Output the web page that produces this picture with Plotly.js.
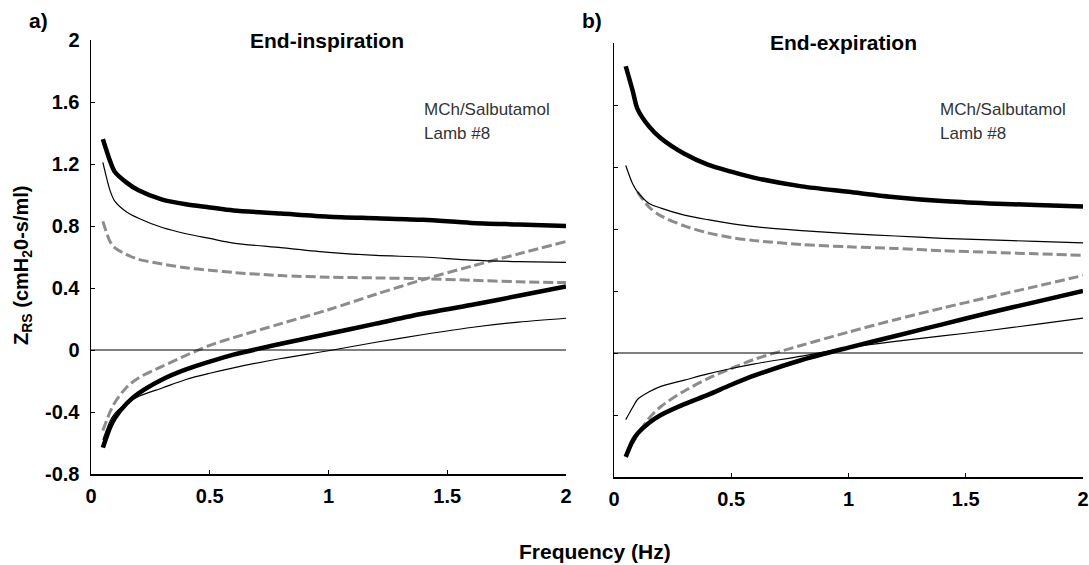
<!DOCTYPE html>
<html>
<head>
<meta charset="utf-8">
<script src="https://cdn.plot.ly/plotly-3.0.1.min.js"></script>
<style>html,body{margin:0;padding:0;background:#fff}#chart{width:1089px;height:565px}</style>
</head>
<body>
<div id="chart"></div>
<script>
// Frequency grid (Hz)
const freq = [0.05,0.08,0.1,0.15,0.2,0.3,0.4,0.5,0.6,0.8,1.0,1.2,1.4,1.6,1.8,2.0];

// a) End-inspiration
const insThickR = [1.36,1.22,1.15,1.08,1.03,0.97,0.94,0.92,0.90,0.88,0.86,0.85,0.84,0.82,0.81,0.80];
const insThinR  = [1.21,1.03,0.96,0.89,0.85,0.79,0.75,0.72,0.69,0.66,0.63,0.61,0.60,0.58,0.57,0.565];
const insDashR  = [0.83,0.70,0.66,0.615,0.585,0.555,0.53,0.515,0.50,0.48,0.47,0.465,0.46,0.45,0.44,0.435];
const insThickX = [-0.63,-0.50,-0.44,-0.345,-0.28,-0.19,-0.125,-0.075,-0.03,0.04,0.105,0.17,0.235,0.29,0.35,0.41];
const insThinX  = [-0.58,-0.46,-0.41,-0.345,-0.30,-0.245,-0.19,-0.15,-0.115,-0.055,-0.005,0.05,0.10,0.145,0.18,0.205];
const insDashX  = [-0.52,-0.40,-0.34,-0.24,-0.18,-0.105,-0.035,0.03,0.08,0.17,0.26,0.36,0.455,0.54,0.62,0.70];

// b) End-expiration
const expThickR = [1.85,1.69,1.575,1.46,1.385,1.285,1.215,1.17,1.13,1.075,1.04,1.005,0.98,0.965,0.955,0.945];
const expThinR  = [1.21,1.09,1.04,0.965,0.935,0.89,0.86,0.835,0.815,0.79,0.77,0.755,0.74,0.73,0.72,0.71];
const expDashR  = [null,null,1.04,0.94,0.885,0.82,0.775,0.745,0.725,0.70,0.685,0.675,0.66,0.65,0.64,0.63];
const expThickX = [-0.67,-0.565,-0.52,-0.45,-0.40,-0.33,-0.27,-0.205,-0.145,-0.045,0.035,0.11,0.185,0.26,0.33,0.40];
const expThinX  = [-0.43,-0.35,-0.30,-0.25,-0.215,-0.175,-0.135,-0.10,-0.07,-0.02,0.035,0.075,0.11,0.145,0.185,0.225];
const expDashX  = [null,-0.58,-0.53,-0.42,-0.345,-0.245,-0.165,-0.10,-0.04,0.05,0.135,0.215,0.29,0.36,0.43,0.50];

const xTicks = [0,0.5,1,1.5,2];
const xTickText = ['0','0.5','1','1.5','2'];
const yTicks = [-0.8,-0.4,0,0.4,0.8,1.2,1.6,2];
const yTickText = ['-0.8','-0.4','0','0.4','0.8','1.2','1.6','2'];

const thick = {color:'#000', width:4.5, shape:'spline', smoothing:0.8};
const thin  = {color:'#000', width:1.2, shape:'spline', smoothing:0.8};
const dash  = {color:'#8c8c8c', width:3, dash:'10px,4px', shape:'spline', smoothing:0.8};

function tr(y, line, xa, ya){
  return {x:freq, y:y, mode:'lines', line:line, xaxis:xa, yaxis:ya, hoverinfo:'skip', showlegend:false, connectgaps:false};
}

const data = [
  tr(insDashR,dash,'x','y'), tr(insDashX,dash,'x','y'),
  tr(insThinR,thin,'x','y'), tr(insThinX,thin,'x','y'),
  tr(insThickR,thick,'x','y'), tr(insThickX,thick,'x','y'),
  tr(expDashR,dash,'x2','y2'), tr(expDashX,dash,'x2','y2'),
  tr(expThinR,thin,'x2','y2'), tr(expThinX,thin,'x2','y2'),
  tr(expThickR,thick,'x2','y2'), tr(expThickX,thick,'x2','y2')
];

const FONT = 'Liberation Sans, Arial, sans-serif';
const tickFont = {family:FONT, size:20, color:'#000', weight:700};

function xax(domain, anchor){
  return {domain:domain, anchor:anchor, range:[0,2], showline:true, linecolor:'#000', linewidth:1.5,
    ticks:'inside', ticklen:4, tickcolor:'#000', tickvals:xTicks, ticktext:xTickText, tickfont:tickFont,
    showgrid:false, zeroline:false, fixedrange:true, ticklabelstandoff:3};
}
function yax(domain, anchor, labels){
  return {domain:domain, anchor:anchor, range:[-0.8,2], showline:true, linecolor:'#000', linewidth:1.5,
    ticks:'inside', ticklen:4, tickcolor:'#000', tickvals:yTicks, ticktext:yTickText, tickfont:tickFont,
    showticklabels:labels, showgrid:false, zeroline:false, fixedrange:true, ticklabelstandoff:6};
}

const W = 1089, H = 565;
const px = v => v / W, py = v => 1 - v / H;

const titleFont = {family:FONT, size:21, color:'#000', weight:700};
const noteFont = {family:FONT, size:17, color:'#333'};
function ann(text, x, y, font, xanchor, extra){
  return Object.assign({text:text, x:px(x), y:py(y), xref:'paper', yref:'paper', showarrow:false,
    xanchor:xanchor||'center', yanchor:'middle', font:font}, extra||{});
}

const layout = {
  width:W, height:H, margin:{l:0,r:0,t:0,b:0}, paper_bgcolor:'#fff', plot_bgcolor:'#fff',
  showlegend:false,
  xaxis: xax([px(91), px(566)], 'y'),
  yaxis: yax([py(474), py(40)], 'x', true),
  xaxis2: xax([px(614), px(1083)], 'y2'),
  yaxis2: yax([py(477), py(43)], 'x2', false),
  shapes:[
    {type:'line', xref:'x domain', yref:'y', x0:0, x1:1, y0:0, y1:0, line:{color:'#000', width:1}},
    {type:'line', xref:'x2 domain', yref:'y2', x0:0, x1:1, y0:0, y1:0, line:{color:'#000', width:1}}
  ],
  annotations:[
    ann('<b>a)</b>', 38, 20, titleFont),
    ann('<b>b)</b>', 592, 20, titleFont),
    ann('<b>End-inspiration</b>', 327, 41, titleFont),
    ann('<b>End-expiration</b>', 843, 42, titleFont),
    ann('MCh/Salbutamol', 422, 110, noteFont, 'left'),
    ann('Lamb #8', 422, 133, noteFont, 'left'),
    ann('MCh/Salbutamol', 938, 110, noteFont, 'left'),
    ann('Lamb #8', 938, 133, noteFont, 'left'),
    ann('<b>Frequency (Hz)</b>', 595, 551, titleFont),
    ann('<b>Z<sub>RS</sub> (cmH<sub>2</sub>0-s/ml)</b>', 22, 265, {family:FONT, size:20, color:'#000', weight:700}, 'center', {textangle:-90})
  ]
};

Plotly.newPlot('chart', data, layout, {displayModeBar:false, staticPlot:true});
</script>
</body>
</html>
